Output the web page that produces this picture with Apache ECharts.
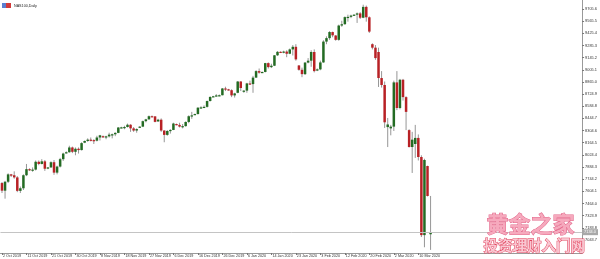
<!DOCTYPE html>
<html><head><meta charset="utf-8">
<script src="https://cdn.jsdelivr.net/npm/echarts@6/dist/echarts.min.js"></script>
<style>html,body{margin:0;padding:0;background:#fff}#c{width:600px;height:259px}</style>
</head><body><div id="c"></div>
<script>
// ---- data ----
const symbolTitle = 'NAS100,Daily';
const tickLabels = ['2 Oct 2019','11 Oct 2019','21 Oct 2019','30 Oct 2019','8 Nov 2019','18 Nov 2019','27 Nov 2019','6 Dec 2019','16 Dec 2019','26 Dec 2019','6 Jan 2020','14 Jan 2020','23 Jan 2020','3 Feb 2020','12 Feb 2020','20 Feb 2020','2 Mar 2020','10 Mar 2020'];
const yTicks = [7043.7,7183.8,7323.9,7464.0,7604.1,7744.2,7884.3,8024.4,8164.5,8304.6,8444.7,8584.8,8724.9,8865.0,9005.1,9145.2,9285.3,9425.4,9565.5,9705.6];
const opens = [7700,7612,7715,7800,7790,7765,7610,7640,7790,7860, 7850,7855,7945,7920,7950,7870,7880,7940,7820,7890,
 7975,8050,8055,8110,8060,8095,8080,8165,8185,8200, 8195,8188,8225,8240,8230,8238,8258,8262,8278,8340,
 8342,8346,8372,8330,8305,8340,8350,8413,8434,8470, 8468,8410,8430,8305,8255,8300,8312,8380,8370,8350,
 8356,8404,8470,8490,8495,8568,8572,8578,8645,8695, 8700,8710,8712,8790,8780,8770,8710,8740,8870,8760,
 8765,8848,8840,8915,8990,8975,8980,9082,9036,9052, 9172,9212,9210,9215,9190,9240,9270,9055,9005,8955,
 9088,9110,9210,9000,9010,9090,9330,9370,9440,9400, 9350,9515,9530,9612,9615,9635,9640,9655,9605,9730,
 9610,9300,9260,9210,8910,8830,8345,8330,8350,8860, 8565,8890,8690,8310,8115,8150,8220,8000,7100,7896,
 7110];
const highs = [7712,7725,7812,7805,7835,7780,7660,7800,7920,7870, 7880,7960,7960,7975,7965,7885,7950,7965,7900,7990,
 8050,8065,8130,8120,8110,8110,8170,8190,8215,8225, 8205,8245,8255,8248,8245,8280,8270,8285,8345,8348,
 8360,8385,8378,8345,8330,8355,8420,8440,8478,8478, 8472,8440,8445,8310,8310,8320,8395,8385,8395,8380,
 8410,8480,8520,8500,8575,8585,8595,8650,8700,8705, 8725,8720,8795,8810,8785,8780,8740,8875,8875,8770,
 8855,8880,8935,9000,9020,8985,9085,9090,9075,9175, 9220,9218,9225,9230,9250,9290,9300,9060,9030,9095,
 9140,9230,9240,9020,9110,9345,9390,9450,9445,9405, 9525,9570,9620,9640,9640,9645,9665,9670,9755,9745,
 9620,9310,9290,9260,8990,8870,8450,8370,8880,8990, 8900,8900,8700,8320,8290,8370,8260,8020,7980,7900,
 7551];
const lows = [7585,7520,7700,7770,7750,7595,7585,7620,7780,7840, 7830,7845,7905,7915,7840,7860,7875,7795,7800,7880,
 7955,8040,8050,8045,8020,8040,8075,8160,8175,8180, 8150,8180,8190,8220,8205,8225,8215,8240,8275,8330,
 8320,8340,8290,8290,8280,8335,8345,8400,8430,8460, 8400,8405,8290,8170,8245,8270,8310,8365,8340,8330,
 8350,8390,8440,8485,8490,8555,8565,8570,8640,8690, 8695,8700,8710,8760,8765,8690,8685,8735,8760,8740,
 8740,8830,8740,8910,8960,8970,8975,9020,9025,9048, 9165,9205,9195,9150,9185,9170,9110,8995,8920,8945,
 9080,9040,8975,8990,9000,9085,9300,9350,9380,9340, 9340,9500,9525,9560,9600,9630,9545,9590,9600,9560,
 9430,9240,9120,8807,8800,8335,8115,8250,8300,8540, 8550,8650,8310,8110,7816,7990,7960,7078,6960,7545,
 6930];
const closes = [7612,7715,7800,7785,7765,7610,7640,7790,7860,7850, 7855,7945,7920,7950,7865,7880,7940,7820,7890,7975,
 8040,8055,8110,8060,8095,8080,8160,8185,8200,8195, 8188,8225,8250,8230,8238,8258,8262,8278,8340,8342,
 8346,8372,8330,8305,8322,8350,8413,8434,8470,8468, 8405,8430,8305,8255,8300,8312,8386,8370,8350,8356,
 8404,8470,8480,8495,8568,8572,8578,8645,8692,8700, 8710,8712,8790,8780,8770,8710,8733,8870,8795,8765,
 8848,8840,8915,8990,8972,8980,9082,9036,9052,9172, 9212,9210,9215,9190,9240,9270,9125,9005,8955,9088,
 9110,9210,8990,9010,9090,9330,9370,9440,9402,9350, 9515,9530,9612,9615,9630,9640,9655,9605,9730,9610,
 9445,9260,9140,8910,8830,8400,8375,8350,8860,8565, 8890,8690,8520,8115,8200,8220,8000,7100,7966,7551,
 7134];

// trading calendar (daily bars incl. short Sunday sessions, no Saturdays / Dec 25 / Jan 1)
const MON = ['Jan','Feb','Mar','Apr','May','Jun','Jul','Aug','Sep','Oct','Nov','Dec'];
const dates = [];
for (let d = new Date(2019, 9, 2); d <= new Date(2020, 2, 16); d.setDate(d.getDate() + 1)) {
  if (d.getDay() === 6) continue;
  if (d.getMonth() === 11 && d.getDate() === 25) continue;
  if (d.getMonth() === 0 && d.getDate() === 1) continue;
  dates.push(d.getDate() + ' ' + MON[d.getMonth()] + ' ' + d.getFullYear());
}
const lastPrice = closes[closes.length - 1];
const candleData = opens.map((o, i) => [i, o, closes[i], lows[i], highs[i]]);

const UP = '#236b23', DOWN = '#b82125', WICK = '#8a8a8a';
const FONT = 'Liberation Sans';

function renderCandle(params, api) {
  const i = api.value(0), o = api.value(1), c = api.value(2), l = api.value(3), h = api.value(4);
  const pO = api.coord([i, o]), pC = api.coord([i, c]), pL = api.coord([i, l]), pH = api.coord([i, h]);
  const cx = pO[0];
  const top = Math.min(pO[1], pC[1]);
  const bot = Math.max(pO[1], pC[1]);
  const col = c >= o ? UP : DOWN;
  return {
    type: 'group',
    children: [
      { type: 'line', shape: { x1: cx, y1: pH[1], x2: cx, y2: pL[1] },
        style: { stroke: WICK, lineWidth: 0.9 } },
      { type: 'rect', shape: { x: cx - 1.25, y: top, width: 2.5, height: Math.max(1.2, bot - top) },
        style: { fill: col } }
    ]
  };
}

const chart = echarts.init(document.getElementById('c'), null, { renderer: 'canvas' });
chart.setOption({
  animation: false,
  backgroundColor: '#ffffff',
  grid: { left: -3.5, right: 17, top: 0, bottom: 6, containLabel: false },
  xAxis: {
    type: 'category', data: dates, boundaryGap: true, max: 189,
    axisLine: { show: true, lineStyle: { color: '#9a9a9a', width: 1 } },
    axisTick: { show: true, alignWithLabel: true, length: 2, lineStyle: { color: '#777' },
      interval: (i) => i % 8 === 0 && i / 8 < tickLabels.length },
    axisLabel: { show: true, interval: (i) => i % 8 === 0 && i / 8 < tickLabels.length,
      formatter: (v, i) => tickLabels[i / 8] || '',
      align: 'left', margin: 1, fontSize: 3.7, color: '#333', fontFamily: FONT, padding: [0, 0, 0, 1] },
    splitLine: { show: false }
  },
  yAxis: {
    type: 'value', position: 'right', min: 6893.9, max: 9809.3,
    axisLine: { show: true, lineStyle: { color: '#9a9a9a', width: 1 } },
    axisTick: { show: true, length: 2, customValues: yTicks, lineStyle: { color: '#777' } },
    axisLabel: { show: true, customValues: yTicks, formatter: (v) => v.toFixed(1),
      fontSize: 3.9, color: '#333', margin: 3, fontFamily: FONT },
    splitLine: { show: false }
  },
  series: [
    { type: 'custom', renderItem: renderCandle, data: candleData, encode: { x: 0, y: [1, 2, 3, 4] }, z: 3 },
    { type: 'line', data: [], z: 2,
      markLine: { silent: true, symbol: 'none', animation: false,
        data: [{ yAxis: lastPrice }],
        lineStyle: { color: '#c4c4c4', width: 1, type: 'solid' },
        label: { position: 'end', formatter: lastPrice.toFixed(1), fontSize: 3.9, color: '#fff',
          backgroundColor: '#a8a8a8', padding: [1, 2], distance: 0, fontFamily: FONT } } }
  ],
  graphic: [
    { type: 'rect', left: 2, top: 3, shape: { width: 4, height: 5 }, style: { fill: '#5b7fd0' }, z: 10 },
    { type: 'rect', left: 6, top: 3, shape: { width: 5, height: 5 }, style: { fill: '#d23a3a' }, z: 10 },
    { type: 'text', left: 14, top: 3.5, style: { text: symbolTitle, fontSize: 3.7, fill: '#222', fontFamily: FONT }, z: 10 },
    { type: 'text', left: 486, top: 212, z: 20,
      style: { text: '黄金之家', font: 'bold 22px "Noto Sans CJK SC"', fill: '#f6a9bd', stroke: '#e2678a', lineWidth: 1 } },
    { type: 'text', left: 483, top: 238, z: 20,
      style: { text: '投资理财入门网', font: 'bold 14.5px "Noto Sans CJK SC"', fill: '#f9c7d2', stroke: '#e2455f', lineWidth: 1 } }
  ]
});
</script></body></html>
